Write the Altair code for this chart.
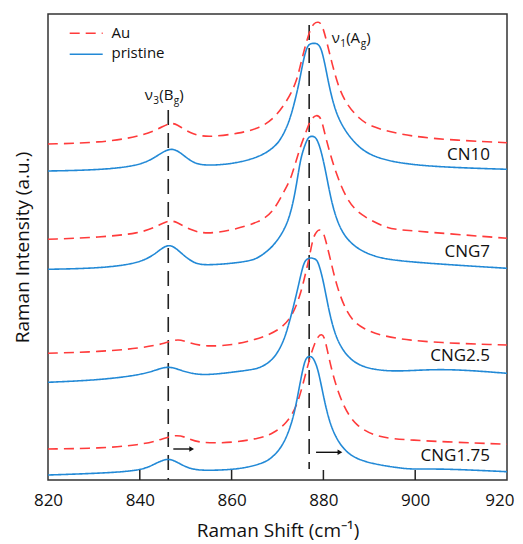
import altair as alt
import pandas as pd

# ---------------- data ----------------
legend_labels = ["Au", "pristine"]
sample_names = ["CN10", "CNG7", "CNG2.5", "CNG1.75"]
tick_values = [820, 840, 860, 880, 900, 920]
inner_ticks = [840, 860, 880, 900]

x_cn10_pristine = [820.0, 831.3, 840.0, 843.6, 846.7, 849.1, 851.6, 854.5, 860.3, 866.2,
                   869.4, 870.9, 872.7, 874.5, 875.3, 876.0, 876.7, 877.9, 879.1, 879.8,
                   880.5, 881.3, 882.3, 883.6, 885.8, 889.4, 896.7, 907.6, 920.0]
y_cn10_pristine = [309, 310, 314.3, 323.3, 333.3, 326.7, 316.7, 314.3, 316, 323,
                   333, 342, 359, 392, 412, 427, 436, 437, 436, 427,
                   412, 393, 374, 358, 342, 325, 316, 312.5, 310.7]

x_cn10_au = [820.0, 831.3, 840.0, 844.4, 846.5, 848.0, 850.9, 854.5, 861.8, 866.2,
             869.4, 872.0, 873.1, 874.2, 874.9, 875.6, 876.3, 877.1, 877.9, 878.9,
             879.7, 880.7, 881.9, 883.4, 885.3, 887.9, 890.1, 895.2, 903.2, 920.0]
y_cn10_au = [336, 337.3, 343.3, 351.7, 357.3, 356, 346.7, 342.3, 346.7, 352,
             362, 379, 388, 400, 413, 426, 438, 450, 457, 458.3,
             456, 439, 416, 391, 374, 361, 354, 347, 341, 337.3]

x_cng7_pristine = [820.0, 831.3, 840.0, 843.6, 846.3, 848.7, 851.6, 854.5, 864.0, 866.2,
                   869.1, 872.0, 873.4, 874.3, 875.0, 875.6, 876.6, 877.5, 878.5, 879.6,
                   880.7, 881.8, 883.6, 886.5, 890.9, 896.7, 920.0]
y_cng7_pristine = [210.7, 211.7, 216.7, 226.7, 237.7, 228.3, 216.7, 214.3, 218.3, 223.3,
                   233.3, 253.3, 276.7, 300, 320, 330, 343, 344, 343, 328,
                   304, 276.7, 250, 233.3, 223.3, 218.3, 211.7]

x_cng7_au = [820.0, 831.3, 840.0, 843.6, 846.2, 848.0, 850.9, 854.5, 860.3, 866.2,
             869.1, 871.6, 873.1, 874.9, 876.0, 877.1, 878.5, 879.5, 880.0, 881.4,
             882.9, 885.1, 887.9, 893.8, 896.7, 920.0]
y_cng7_au = [240.7, 242.7, 246.7, 253.3, 260, 258.3, 250, 245.7, 250, 258,
             268.3, 290, 303, 333, 345, 360, 366, 362, 352, 326.7,
             305, 280, 265, 251.7, 250, 241.7]

x_cng25_pristine = [820.0, 831.3, 840.0, 843.6, 846.2, 848.7, 852.4, 856.7, 864.0, 866.2,
                    869.1, 871.2, 872.3, 873.4, 874.5, 875.6, 876.3, 877.3, 878.3, 878.9,
                    880.0, 881.0, 882.1, 883.6, 886.5, 890.9, 896.7, 906.1, 920.0]
y_cng25_pristine = [97.7, 100, 105, 110, 114, 110, 105, 105.7, 110, 112,
                    120, 137, 153, 172, 193, 216, 221, 222.5, 221, 218,
                    199, 174, 152, 133.3, 116.7, 110, 108.3, 111.7, 106.7]

x_cng25_au = [820.0, 831.3, 840.0, 845.8, 848.3, 850.9, 854.5, 860.3, 864.7, 867.5,
              870.9, 873.1, 874.9, 876.3, 877.1, 877.8, 878.6, 879.2, 879.9, 880.3,
              881.4, 882.9, 885.1, 887.9, 896.7, 920.0]
y_cng25_au = [126.7, 128.3, 131.7, 136.7, 141.7, 136.7, 133.3, 135, 140, 144,
              151.7, 163.3, 183.3, 210, 226.7, 243.3, 249, 250.7, 248, 243.3,
              223.3, 193.3, 166.7, 151, 138.3, 135]

x_cng175_pristine = [820.0, 831.3, 840.0, 842.9, 845.9, 848.0, 850.9, 854.5, 861.8, 866.2,
                     868.3, 871.2, 873.4, 874.5, 875.6, 876.2, 876.9, 877.6, 878.1, 878.9,
                     880.3, 881.8, 884.3, 887.9, 896.7, 899.9, 906.1, 920.0]
y_cng175_pristine = [5, 6.7, 9.3, 15, 22.3, 18.3, 10.7, 9.3, 10.7, 16,
                     20, 33.3, 60, 86.7, 113.3, 122, 124, 123, 119, 110,
                     76.7, 50, 30, 18.3, 11.7, 10.7, 11.3, 8.3]

x_cng175_au = [820.0, 831.3, 840.0, 844.4, 848.0, 850.5, 853.1, 860.3, 866.2, 869.1,
               872.0, 874.2, 875.6, 877.1, 878.1, 878.9, 879.6, 880.2, 880.7, 882.1,
               884.3, 887.2, 891.6, 896.7, 920.0]
y_cng175_au = [31, 31.7, 35, 40, 46, 41.7, 36.7, 37.3, 41.7, 46.7,
               56.7, 73.3, 96.7, 123.3, 136.7, 144, 146, 143, 133.3, 103.3,
               73.3, 53.3, 43.3, 40, 35.7]

# sample label anchors (right end of text)
label_x = [916.3, 916.3, 916.3, 916.3]
label_y = [325, 228, 124, 24]

# vibrational mode guide lines
mode_x = [846.2, 876.9]
mode_top = [370, 455]
mode_bottom = [0, 11]

# mode annotations: nu3(Bg), nu1(Ag)
mode_sub = ["3", "1"]
mode_sym = ["B", "A"]
mode_label_x = [841.1, 881.8]
mode_label_y = [380, 436.7]

# shift arrows
arrow_x = [847.3, 878.4]
arrow_x2 = [851.3, 883.6]
arrow_y = [31, 27.7]

# ---------------- build tables ----------------
RED = "#ff3b3b"
BLUE = "#2289d6"
INK = "#222222"
FONT = "Open Sans"


def curve(xs, ys, sample, kind):
    return pd.DataFrame({"shift": xs, "intensity": ys, "sample": sample, "kind": kind})


curves = pd.concat([
    curve(x_cn10_au, y_cn10_au, "CN10", "Au"),
    curve(x_cn10_pristine, y_cn10_pristine, "CN10", "pristine"),
    curve(x_cng7_au, y_cng7_au, "CNG7", "Au"),
    curve(x_cng7_pristine, y_cng7_pristine, "CNG7", "pristine"),
    curve(x_cng25_au, y_cng25_au, "CNG2.5", "Au"),
    curve(x_cng25_pristine, y_cng25_pristine, "CNG2.5", "pristine"),
    curve(x_cng175_au, y_cng175_au, "CNG1.75", "Au"),
    curve(x_cng175_pristine, y_cng175_pristine, "CNG1.75", "pristine"),
], ignore_index=True)
curves["series"] = curves["sample"] + " " + curves["kind"]

xscale = alt.Scale(domain=[820, 920], nice=False, zero=False)
yscale = alt.Scale(domain=[0, 466], nice=False, zero=False)

last_tick = "datum.value >= 919"
xaxis = alt.Axis(values=tick_values, format="d", title="Raman Shift (cm⁻¹)",
                 grid=False, domain=False, ticks=False, tickSize=0,
                 labelPadding=12, labelFontSize=17, labelFont=FONT, labelColor="#111",
                 labelFlush=False,
                 labelAlign=alt.condition(last_tick, alt.value("right"), alt.value("center")),
                 labelOffset=alt.condition(last_tick, alt.value(7), alt.value(0)),
                 titleFont=FONT, titleFontSize=19,
                 titleFontWeight="normal", titleColor="#111", titlePadding=13)
yaxis = alt.Axis(title="Raman Intensity (a.u.)", labels=False, ticks=False,
                 domain=False, grid=False, titleFont=FONT, titleFontSize=19,
                 titleFontWeight="normal", titleColor="#111", titlePadding=16)


def X(field):
    return alt.X(field, type="quantitative", scale=xscale, axis=xaxis)


def Y(field):
    return alt.Y(field, type="quantitative", scale=yscale, axis=yaxis)


lines = alt.Chart(curves).mark_line(interpolate="basis", strokeWidth=1.6).encode(
    x=X("shift"),
    y=Y("intensity"),
    color=alt.Color("kind:N", scale=alt.Scale(domain=legend_labels, range=[RED, BLUE]), legend=None),
    strokeDash=alt.StrokeDash("kind:N", scale=alt.Scale(domain=legend_labels, range=[[10, 6], [1, 0]]),
                              legend=None),
    detail="series:N",
)

modes_df = pd.DataFrame({"shift": mode_x, "intensity": mode_top, "bottom": mode_bottom})
mode_lines = alt.Chart(modes_df).mark_rule(color=INK, strokeWidth=1.6, strokeDash=[15, 8]).encode(
    x=X("shift"), y=Y("intensity"), y2="bottom:Q")

arrows_df = pd.DataFrame({"shift": arrow_x, "end": arrow_x2, "intensity": arrow_y})
arrow_shafts = alt.Chart(arrows_df).mark_rule(color="#111", strokeWidth=1.4).encode(
    x=X("shift"), x2="end:Q", y=Y("intensity"))
arrow_heads = alt.Chart(arrows_df).mark_point(shape="triangle-right", filled=True, size=30,
                                              color="#111", opacity=1).encode(
    x=alt.X("end", type="quantitative", scale=xscale, axis=xaxis), y=Y("intensity"))

labels_df = pd.DataFrame({"shift": label_x, "intensity": label_y, "name": sample_names})
sample_labels = alt.Chart(labels_df).mark_text(align="right", baseline="middle", font=FONT,
                                               fontSize=17, color="#111").encode(
    x=X("shift"), y=Y("intensity"), text="name:N")

ticks_df = pd.DataFrame({"shift": inner_ticks})
inner = alt.Chart(ticks_df).mark_rule(color="#222", strokeWidth=1.5).encode(
    x=X("shift"), y=alt.value(466), y2=alt.value(456))

mode_df = pd.DataFrame({"shift": mode_label_x, "intensity": mode_label_y,
                        "sub": mode_sub, "sym": mode_sym})
base_txt = alt.Chart(mode_df)
nu = base_txt.mark_text(align="left", baseline="alphabetic", font=FONT, fontSize=15,
                        color="#111", text="ν").encode(x=X("shift"), y=Y("intensity"))
nu_sub = base_txt.mark_text(align="left", baseline="alphabetic", font=FONT, fontSize=10,
                            color="#111", dx=8.5, dy=4).encode(x=X("shift"), y=Y("intensity"),
                                                               text="sub:N")
sym_txt = base_txt.transform_calculate(lbl="'(' + datum.sym").mark_text(
    align="left", baseline="alphabetic", font=FONT, fontSize=15, color="#111", dx=14.5).encode(
    x=X("shift"), y=Y("intensity"), text="lbl:N")
g_sub = base_txt.mark_text(align="left", baseline="alphabetic", font=FONT, fontSize=10,
                           color="#111", dx=29, dy=4, text="g").encode(x=X("shift"), y=Y("intensity"))
paren_close = base_txt.mark_text(align="left", baseline="alphabetic", font=FONT, fontSize=15,
                                 color="#111", dx=34.5, text=")").encode(x=X("shift"), y=Y("intensity"))

# manual legend (top-left)
leg_au_line = alt.Chart(pd.DataFrame({"kind": [legend_labels[0]]})).mark_rule(
    color=RED, strokeWidth=1.6, strokeDash=[10, 6]).encode(
    x=alt.value(21.7), x2=alt.value(54.7), y=alt.value(19.3))
leg_pr_line = alt.Chart(pd.DataFrame({"kind": [legend_labels[1]]})).mark_rule(
    color=BLUE, strokeWidth=1.6).encode(
    x=alt.value(21.7), x2=alt.value(54.7), y=alt.value(40.3))
leg_au_txt = alt.Chart(pd.DataFrame({"kind": [legend_labels[0]]})).mark_text(
    align="left", baseline="middle", font=FONT, fontSize=15, color="#111").encode(
    x=alt.value(63.5), y=alt.value(19), text="kind:N")
leg_pr_txt = alt.Chart(pd.DataFrame({"kind": [legend_labels[1]]})).mark_text(
    align="left", baseline="middle", font=FONT, fontSize=15, color="#111").encode(
    x=alt.value(63.5), y=alt.value(39), text="kind:N")

chart = alt.layer(
    mode_lines, lines, arrow_shafts, arrow_heads, sample_labels, inner,
    nu, nu_sub, sym_txt, g_sub, paren_close,
    leg_au_line, leg_pr_line, leg_au_txt, leg_pr_txt,
).properties(
    width=459, height=466,
    autosize=alt.AutoSizeParams(type="none"),
    padding={"left": 40, "top": 6, "right": 8, "bottom": 64},
    background="white",
).configure_view(stroke="#333", strokeWidth=1.5)

chart.save("out.html", embed_options={"renderer": "svg", "actions": False})
